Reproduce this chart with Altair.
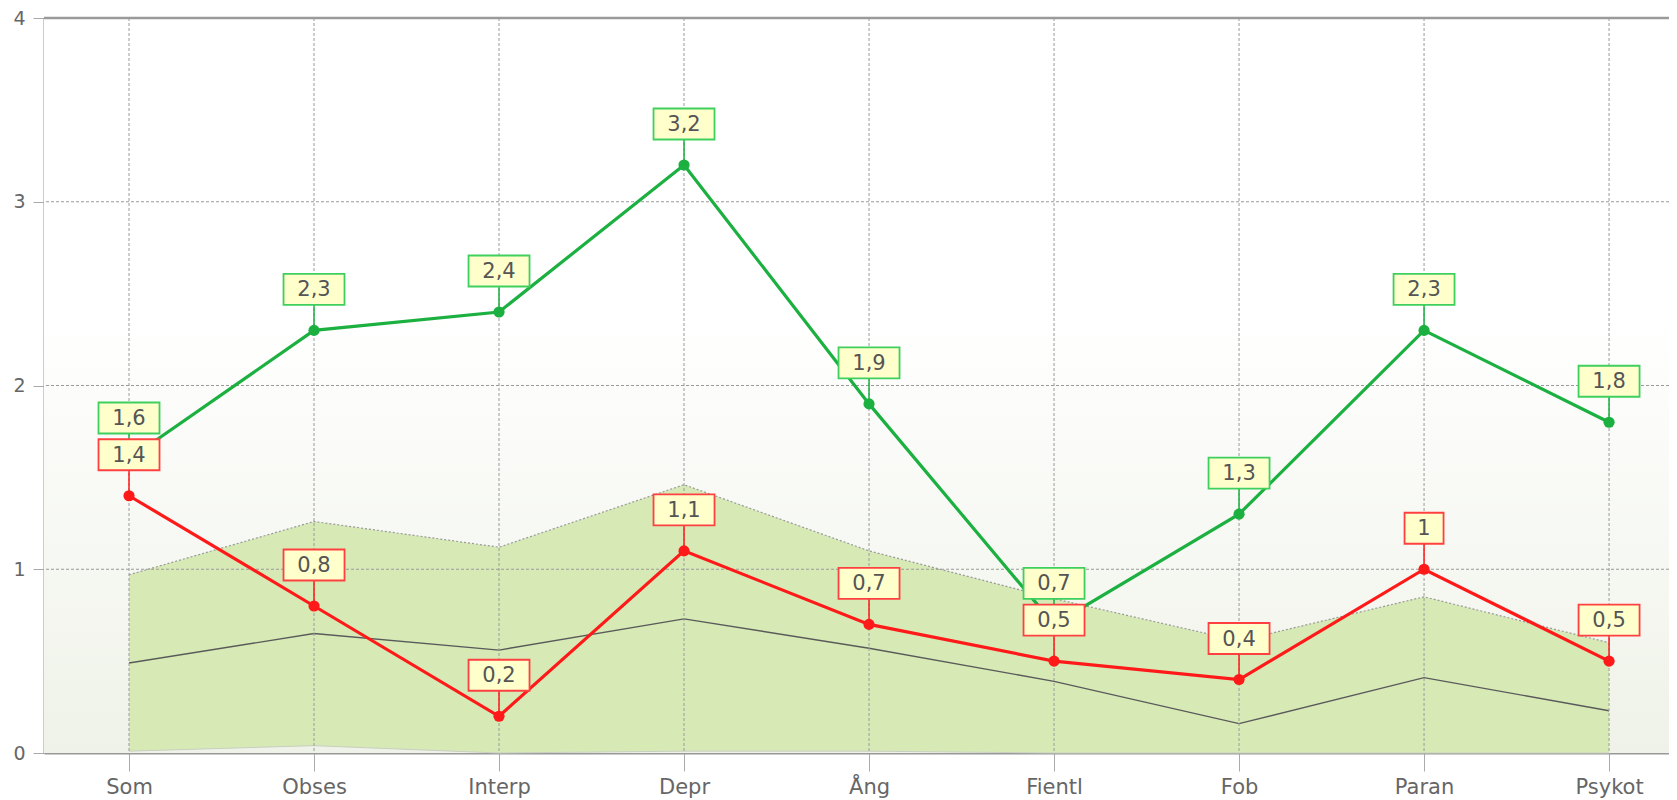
import altair as alt
import pandas as pd

categories = ["Som", "Obses", "Interp", "Depr", "Ång", "Fientl", "Fob", "Paran", "Psykot"]
green_values = [1.6, 2.3, 2.4, 3.2, 1.9, 0.7, 1.3, 2.3, 1.8]
red_values = [1.4, 0.8, 0.2, 1.1, 0.7, 0.5, 0.4, 1.0, 0.5]
band_upper = [0.97, 1.26, 1.12, 1.46, 1.10, 0.84, 0.61, 0.85, 0.60]
band_median = [0.49, 0.65, 0.56, 0.73, 0.57, 0.39, 0.16, 0.41, 0.23]
band_lower = [0.01, 0.04, 0.0, 0.01, 0.01, 0.0, 0.0, 0.0, 0.0]
y_ticks = [0, 1, 2, 3, 4]

W, H = 1625, 735
FONT = "DejaVu Sans"
GREEN = "#1bb040"
RED = "#ff1a1a"
GREEN_BORDER = "#3fcf5c"
RED_BORDER = "#ff4040"

idx = list(range(len(categories)))
band = pd.DataFrame({"i": idx, "cat": categories, "up": band_upper,
                     "med": band_median, "lo": band_lower})
series = pd.DataFrame({
    "i": idx * 2,
    "v": green_values + red_values,
    "s": ["g"] * len(idx) + ["r"] * len(idx),
})
grid_y = pd.DataFrame({"y": y_ticks[1:-1]})
top_df = pd.DataFrame({"y": [y_ticks[-1]]})
one = pd.DataFrame({"a": [0]})

label_expr = "[" + ",".join("'" + c + "'" for c in categories) + "][datum.value]"

xs = alt.Scale(domain=[-0.4595, 8.324], nice=False, zero=False)
ys = alt.Scale(domain=[0, 4], nice=False)

X = alt.X("i:Q", scale=xs, axis=alt.Axis(
    values=idx, labelExpr=label_expr, grid=False, tickSize=18, tickColor="#aaaaaa",
    domainColor="#999999", domainWidth=2, labelFontSize=21, labelColor="#666666",
    labelFont=FONT, labelPadding=5, labelOverlap=False, labelFlush=False, title=None))
Y_AX = alt.Axis(values=y_ticks, format="d", grid=False, tickSize=11, tickColor="#aaaaaa",
                domainColor="#999999", domainWidth=2, labelFontSize=19,
                labelColor="#666666", labelFont=FONT, labelPadding=8, title=None)

bg = alt.Chart(one).mark_rect(
    fill=alt.Gradient(
        gradient="linear", x1=0, x2=0, y1=0, y2=1,
        stops=[alt.GradientStop(offset=0, color="#ffffff"),
               alt.GradientStop(offset=0.4, color="#ffffff"),
               alt.GradientStop(offset=1, color="#eff2e8")]),
    stroke=None).encode(x=alt.value(0), x2=alt.value(W), y=alt.value(0), y2=alt.value(H))

base_band = alt.Chart(band)
area = base_band.mark_area(color="#d7eab6", opacity=1).encode(
    x=X, y=alt.Y("up:Q", scale=ys, axis=Y_AX), y2="lo:Q")
lower_line = base_band.mark_line(color="#c8cfc0", strokeWidth=1).encode(x="i:Q", y="lo:Q")
median_line = base_band.mark_line(color="#5a5a5a", strokeWidth=1.4).encode(x="i:Q", y="med:Q")
upper_line = base_band.mark_line(color="#9a9a9a", strokeWidth=1.2, strokeDash=[2, 2]).encode(
    x="i:Q", y="up:Q")

vgrid = base_band.mark_rule(color="#9a9a9a", strokeWidth=1, strokeDash=[3, 2]).encode(
    x="i:Q", y=alt.value(0), y2=alt.value(H))
hgrid = alt.Chart(grid_y).mark_rule(color="#9a9a9a", strokeWidth=1, strokeDash=[3, 2]).encode(
    y=alt.Y("y:Q", scale=ys))
top_rule = alt.Chart(top_df).mark_rule(color="#9a9a9a", strokeWidth=2.5).encode(
    y=alt.Y("y:Q", scale=ys))

color_scale = alt.Scale(domain=["g", "r"], range=[GREEN, RED])
border_scale = alt.Scale(domain=["g", "r"], range=[GREEN_BORDER, RED_BORDER])

sbase = alt.Chart(series)
lines = sbase.mark_line(strokeWidth=3.2).encode(
    x="i:Q", y="v:Q", detail="s:N",
    color=alt.Color("s:N", scale=color_scale, legend=None))
dots = sbase.mark_circle(size=125, opacity=1).encode(
    x="i:Q", y="v:Q", color=alt.Color("s:N", scale=color_scale, legend=None))
connectors = sbase.mark_rule(strokeWidth=1.5, y2Offset=-26).encode(
    x="i:Q", y="v:Q", y2="v:Q",
    color=alt.Color("s:N", scale=color_scale, legend=None))

lab = sbase.transform_calculate(lbl="replace(format(datum.v, '.1~f'), '.', ',')")
wide_box = lab.transform_filter("length(datum.lbl) > 1").mark_point(
    shape="M-1,-0.508H1V0.508H-1Z", size=61 * 61, filled=False, fill="#ffffcc",
    fillOpacity=1, opacity=1, strokeWidth=1.8, yOffset=-41).encode(
    x="i:Q", y="v:Q", stroke=alt.Stroke("s:N", scale=border_scale, legend=None))
narrow_box = lab.transform_filter("length(datum.lbl) <= 1").mark_point(
    shape="M-1,-0.795H1V0.795H-1Z", size=39 * 39, filled=False, fill="#ffffcc",
    fillOpacity=1, opacity=1, strokeWidth=1.8, yOffset=-41).encode(
    x="i:Q", y="v:Q", stroke=alt.Stroke("s:N", scale=border_scale, legend=None))
texts = lab.mark_text(font=FONT, fontSize=21, color="#555555", yOffset=-40,
                      baseline="middle", align="center").encode(
    x="i:Q", y="v:Q", text="lbl:N")

chart = alt.layer(
    bg, area, lower_line, median_line, vgrid, hgrid, upper_line, top_rule,
    lines, dots, connectors, wide_box, narrow_box, texts
).properties(
    width=W, height=H,
    autosize=alt.AutoSizeParams(type="none"),
    padding={"left": 36, "top": 10, "right": 0, "bottom": 47},
).configure_view(stroke=None)

chart.save("out.html", embed_options={"renderer": "svg", "actions": False})
